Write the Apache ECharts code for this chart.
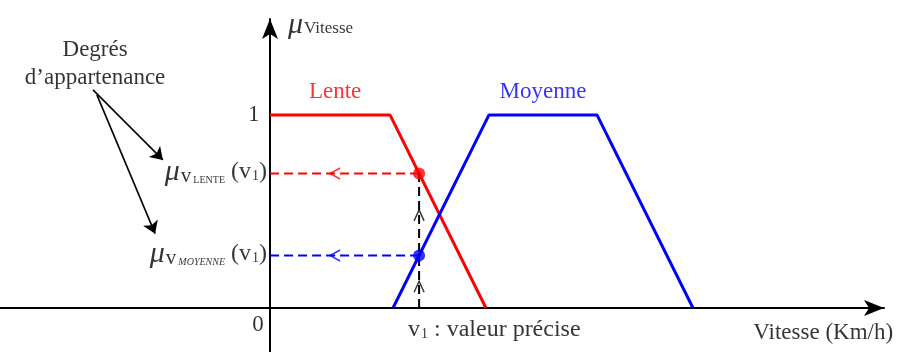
<!DOCTYPE html>
<html lang="fr">
<head>
  <meta charset="UTF-8">
  <title>Degrés d'appartenance</title>
  <script src="https://cdn.jsdelivr.net/npm/echarts@6/dist/echarts.min.js"></script>
  <style>
    html, body { margin: 0; padding: 0; background: #fff; }
    #chart { width: 900px; height: 352px; }
  </style>
</head>
<body>
  <div id="chart"></div>
<script>
  // fonctions d'appartenance (vitesse, degré)
  const lente = [[0, 1], [40, 1], [72, 0]];
  const moyenne = [[41, 0], [73, 1], [109, 1], [141, 0]];
  // valeur précise et degrés lus
  const v1 = 49.7;
  const muLente = 0.697;
  const muMoyenne = 0.272;
  const yTicks = [1];

  const serif = "'Liberation Serif', 'DejaVu Serif', serif";
  const chart = echarts.init(document.getElementById("chart"));

  // annotations texte (coordonnées en unités du graphe)
  function note(coord, text, label) {
    return {
      type: "scatter", symbolSize: 0, silent: true, z: 5, clip: false,
      data: [coord],
      label: Object.assign({
        show: true, position: "inside", formatter: text,
        fontFamily: serif, fontSize: 23, color: "#000"
      }, label)
    };
  }

  const muRich = {
    mu: { fontFamily: serif, fontStyle: "italic", fontSize: 30, color: "#000" },
    v: { fontFamily: serif, fontSize: 21, color: "#000", padding: [10, 0, 0, 1] },
    sub: { fontFamily: serif, fontSize: 10, color: "#000", padding: [16, 0, 0, 2] },
    subi: { fontFamily: serif, fontSize: 10, fontStyle: "italic", color: "#000", padding: [16, 0, 0, 2] },
    p: { fontFamily: serif, fontSize: 24, color: "#000" },
    s1: { fontFamily: serif, fontSize: 14, color: "#000", padding: [8, 0, 0, 1] },
    vit: { fontFamily: serif, fontSize: 17, color: "#000", padding: [8, 0, 0, 1] }
  };

  function chevron(coord, color, path) {
    return {
      type: "scatter", silent: true, z: 4,
      symbol: path, symbolSize: [10, 11],
      itemStyle: { color: "transparent", borderColor: color, borderWidth: 1.5 },
      data: [coord]
    };
  }

  const leftChev = "path://M10,0 L0,5 L10,10";
  const upChev = "path://M0,10 L5,0 L10,10";

  const option = {
    animation: false,
    grid: { left: 0, top: 19, width: 884, height: 333, containLabel: false, outerBoundsMode: "none" },
    xAxis: {
      type: "value", min: -90, max: 204.67,
      axisLine: { onZero: true, symbol: ["none", "arrow"], symbolSize: [12, 20],
        lineStyle: { color: "#000", width: 2 } },
      axisTick: { show: false }, axisLabel: { show: false }, splitLine: { show: false }
    },
    yAxis: {
      type: "value", min: -0.228, max: 1.497,
      axisLine: { onZero: true, symbol: ["none", "arrow"], symbolSize: [12, 20],
        lineStyle: { color: "#000", width: 2 } },
      axisTick: { show: false }, axisLabel: { show: false }, splitLine: { show: false }
    },
    series: [
      { type: "line", data: lente, symbol: "none", lineStyle: { color: "#ff0000", width: 3 }, z: 3 },
      { type: "line", data: moyenne, symbol: "none", lineStyle: { color: "#0000ff", width: 3 }, z: 3 },
      // projections
      { type: "line", data: [[v1, muLente], [0, muLente]], symbol: "none",
        lineStyle: { color: "#ff0000", width: 2, type: [9, 5] } },
      { type: "line", data: [[v1, muMoyenne], [0, muMoyenne]], symbol: "none",
        lineStyle: { color: "#0000ff", width: 2, type: [9, 5] } },
      { type: "line", data: [[v1, 0], [v1, muLente]], symbol: "none",
        lineStyle: { color: "#000", width: 2, type: [9, 5] } },
      { type: "scatter", data: [[v1, muLente]], symbolSize: 12, itemStyle: { color: "#ff0000" }, z: 6 },
      { type: "scatter", data: [[v1, muMoyenne]], symbolSize: 12, itemStyle: { color: "#0000ff" }, z: 6 },
      chevron([21.7, muLente], "#ff0000", leftChev),
      chevron([21.7, muMoyenne], "#0000ff", leftChev),
      chevron([v1, 0.48], "#000", upChev),
      chevron([v1, 0.11], "#000", upChev),
      // flèches "Degrés d'appartenance"
      {
        type: "lines", coordinateSystem: "cartesian2d", silent: true,
        symbol: ["none", "arrow"], symbolSize: 12,
        lineStyle: { color: "#000", width: 1.6, opacity: 1 },
        data: [
          { coords: [[-59, 1.13], [-35.7, 0.767]] },
          { coords: [[-57.7, 1.104], [-38.3, 0.385]] }
        ]
      },
      note([-3.5, yTicks[0]], String(yTicks[0]), { align: "right", verticalAlign: "middle" }),
      note([-58.3, 1.264], "Degrés\nd’appartenance", { align: "center", verticalAlign: "middle", lineHeight: 28 }),
      note([21.7, 1.119], "Lente", { color: "#ff0000", align: "center", verticalAlign: "middle" }),
      note([91, 1.119], "Moyenne", { color: "#0000ff", align: "center", verticalAlign: "middle" }),
      note([-4, -0.088], "0", { align: "center", verticalAlign: "middle" }),
      note([6, 1.466], "{mu|μ}{vit|Vitesse}", { align: "left", verticalAlign: "middle", rich: muRich }),
      note([46, -0.114], "{p|v}{s1|1}{p| : valeur précise}", { align: "left", verticalAlign: "middle", rich: muRich }),
      note([207.7, -0.13], "Vitesse (Km/h)", { align: "right", verticalAlign: "middle" }),
      note([-1, 0.705], "{mu|μ}{v|v}{sub|LENTE}{p| (v}{s1|1}{p|)}", { align: "right", verticalAlign: "middle", rich: muRich }),
      note([-1, 0.28], "{mu|μ}{v|v}{subi|MOYENNE}{p| (v}{s1|1}{p|)}", { align: "right", verticalAlign: "middle", rich: muRich })
    ]
  };
  chart.setOption(option);
</script>
</body>
</html>
